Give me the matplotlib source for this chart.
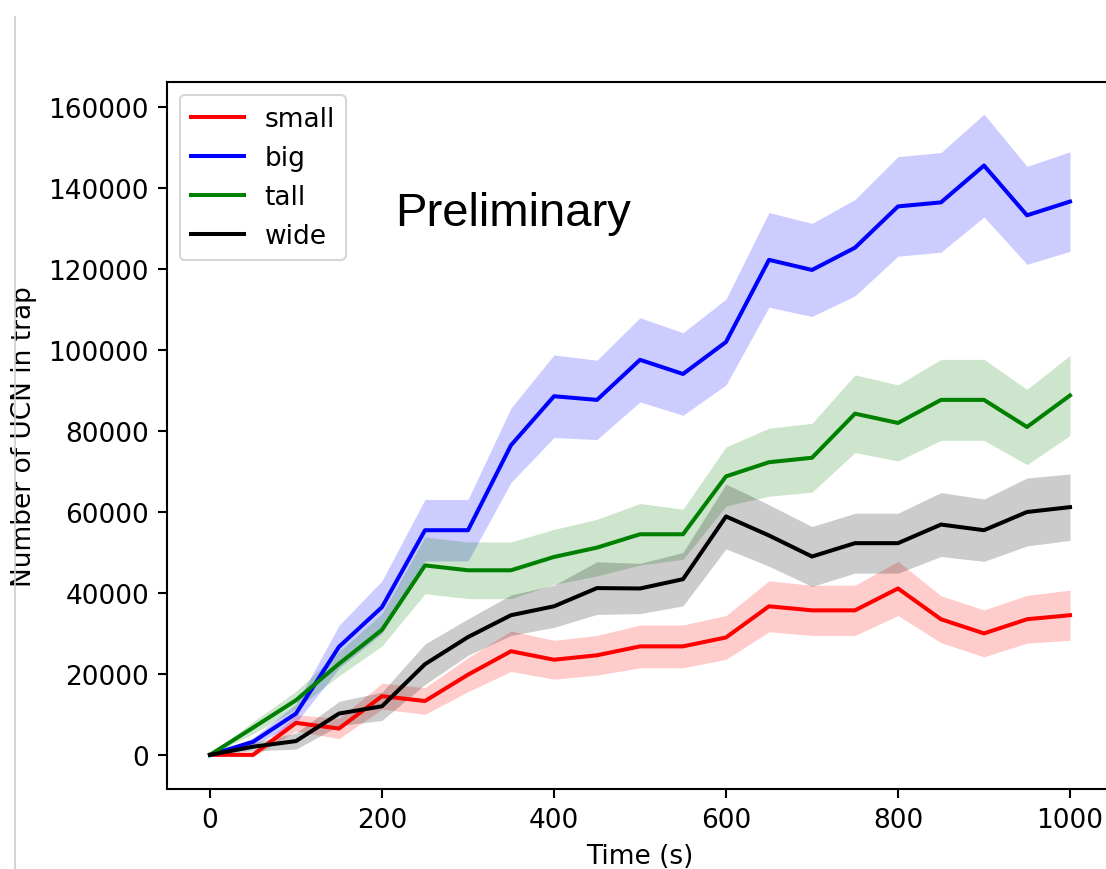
import matplotlib
matplotlib.use("Agg")
import matplotlib.pyplot as plt
from matplotlib.lines import Line2D

# time points (s)
time = [0, 50, 100, 150, 200, 250, 300, 350, 400, 450, 500,
        550, 600, 650, 700, 750, 800, 850, 900, 950, 1000]

# number of UCN in trap
small = [0, 0, 7900, 6500, 14500, 13300, 19800, 25600, 23500, 24600, 26800,
         26800, 29000, 36700, 35700, 35700, 41100, 33500, 30000, 33500, 34500]
small_err = [0, 500, 2000, 2500, 3200, 3300, 4200, 5000, 4800, 4900, 5300,
             5300, 5400, 6300, 6200, 6200, 6700, 5800, 5800, 5900, 6200]

big = [0, 3200, 10200, 26700, 36500, 55500, 55500, 76500, 88600, 87700, 97600,
       94100, 102000, 122300, 119800, 125300, 135500, 136500, 145600, 133300, 136700]
big_err = [0, 1000, 2300, 5300, 6500, 7600, 7600, 9200, 10200, 9800, 10400,
           10200, 10600, 11700, 11500, 11900, 12300, 12300, 12700, 12100, 12300]

tall = [0, 6700, 13500, 22500, 30900, 46800, 45600, 45600, 48900, 51200, 54500,
        54500, 68800, 72300, 73400, 84300, 82000, 87700, 87700, 81000, 88800]
tall_err = [0, 1500, 2200, 3000, 4000, 7000, 7000, 7000, 6800, 7000, 7600,
            6200, 7300, 8400, 8500, 9600, 9400, 10000, 10000, 9300, 9900]

wide = [0, 2000, 3400, 10200, 12000, 22400, 29100, 34500, 36700, 41200, 41100,
        43400, 58900, 54200, 49000, 52300, 52300, 56900, 55500, 60000, 61200]
wide_err = [0, 1000, 2000, 3000, 3500, 5000, 4500, 5000, 5200, 6500, 6200,
            6600, 8000, 7600, 7400, 7400, 7400, 7900, 7700, 8400, 8200]

series = [("small", small, small_err, "r"),
          ("big", big, big_err, "b"),
          ("tall", tall, tall_err, "g"),
          ("wide", wide, wide_err, "k")]

fs = 19

fig = plt.figure(figsize=(11.06, 8.70), dpi=100)
# axes run past the right edge, the picture is cropped there
ax = fig.add_axes([167 / 1106, 80 / 870, 946 / 1106, 707 / 870])

for name, vals, err, col in series:
    lo = [v - e for v, e in zip(vals, err)]
    hi = [v + e for v, e in zip(vals, err)]
    ax.plot(time, vals, color=col, lw=2.9, label=name)
    ax.fill_between(time, lo, hi, color=col, alpha=0.2, lw=0)

ax.set_yticks(range(0, 160001, 20000))
ax.set_xticks(range(0, 1001, 200))
ax.tick_params(labelsize=fs, length=6.5, width=1.5, pad=6.5)
for s in ax.spines.values():
    s.set_linewidth(1.5)
ax.spines["right"].set_visible(False)

ax.set_xlabel("Time (s)", fontsize=fs, labelpad=7)
ax.set_ylabel("Number of UCN in trap", fontsize=fs, labelpad=8)

leg = ax.legend(loc="upper left", fontsize=fs)
leg.get_frame().set_linewidth(1.5)

fig.text(395 / 1106, (870 - 226) / 870, "Preliminary", fontsize=34,
         family="Liberation Sans", va="baseline", ha="left")

# thin slide border on the left
fig.add_artist(Line2D([15 / 1106, 15 / 1106], [0, 1 - 18 / 870],
                      transform=fig.transFigure, color="#cccccc", lw=1.2))

fig.savefig("out.png", dpi=100)
